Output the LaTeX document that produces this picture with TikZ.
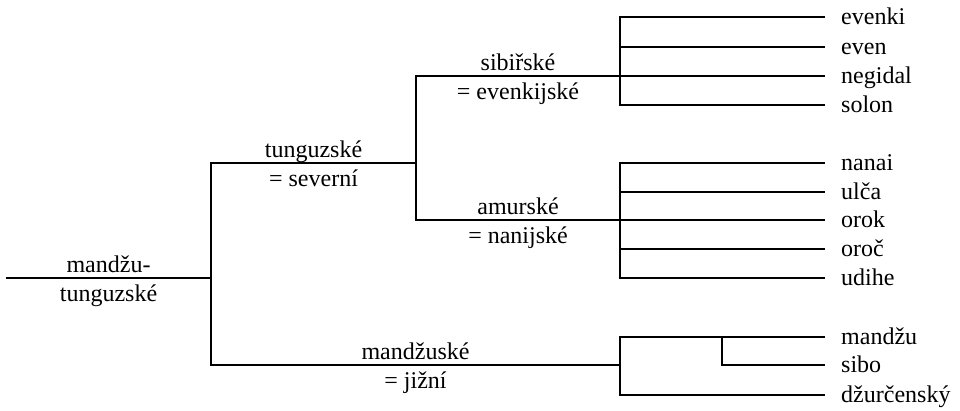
\documentclass[tikz,border=0pt]{standalone}
\usepackage{fontspec}
\setmainfont{Liberation Serif}
\usetikzlibrary{positioning}

\begin{document}
\begin{tikzpicture}[
    x=1pt, y=-1pt,
    font=\fontsize{24}{28}\selectfont,
    branch/.style={draw=black, line width=2pt},
    over/.style={anchor=base, yshift=6pt, inner sep=0pt},
    under/.style={anchor=base, yshift=-23pt, inner sep=0pt},
    leaf/.style={anchor=base west, xshift=16pt, yshift=-7pt, inner sep=0pt}
]
\useasboundingbox (0,0) rectangle (960,410);

%%%%%%%%%%%%%%%%%%%%%
% Junctions
%%%%%%%%%%%%%%%%%%%%%
\coordinate (start) at (6,278);
\coordinate (mt) at (211,278);
\coordinate (tung) at (416,163);
\coordinate (sib) at (620,76);
\coordinate (amur) at (620,220);
\coordinate (mandz) at (620,365);
\coordinate (mandzsib) at (722,337);

%%%%%%%%%%%%%%%%%%%%%
% Leaf ends and names
%%%%%%%%%%%%%%%%%%%%%
\coordinate (evenki) at (825,17);
\coordinate (even) at (825,47);
\coordinate (negidal) at (825,76);
\coordinate (solon) at (825,105);
\coordinate (nanai) at (825,163);
\coordinate (ulca) at (825,192);
\coordinate (orok) at (825,220);
\coordinate (oroc) at (825,249);
\coordinate (udihe) at (825,278);
\coordinate (mandzu) at (825,337);
\coordinate (sibo) at (825,365);
\coordinate (dzur) at (825,395);

\node[leaf] (evenkiL) at (evenki) {evenki};
\node[leaf] (evenL) at (even) {even};
\node[leaf] (negidalL) at (negidal) {negidal};
\node[leaf] (solonL) at (solon) {solon};
\node[leaf] (nanaiL) at (nanai) {nanai};
\node[leaf] (ulcaL) at (ulca) {ulča};
\node[leaf] (orokL) at (orok) {orok};
\node[leaf] (orocL) at (oroc) {oroč};
\node[leaf] (udiheL) at (udihe) {udihe};
\node[leaf] (mandzuL) at (mandzu) {mandžu};
\node[leaf] (siboL) at (sibo) {sibo};
\node[leaf] (dzurL) at (dzur) {džurčenský};

%%%%%%%%%%%%%%%%%%%%%
% Main branches
%%%%%%%%%%%%%%%%%%%%%
\draw[branch] (start) -- (mt)
    node[midway, over] (mtA) {mandžu-}
    node[midway, under] (mtB) {tunguzské};
\draw[branch] (mt) |- (tung)
    node[pos=0.75, over] (tungA) {tunguzské}
    node[pos=0.75, under] (tungB) {= severní};
\draw[branch] (mt) |- (mandz)
    node[pos=0.75, over] (mandzA) {mandžuské}
    node[pos=0.75, under] (mandzB) {= jižní};

%%%%%%%%%%%%%%%%%%%%%
% Northern group
%%%%%%%%%%%%%%%%%%%%%
\draw[branch] (tung) |- (sib)
    node[pos=0.75, over] (sibA) {sibiřské}
    node[pos=0.75, under] (sibB) {= evenkijské};
\draw[branch] (tung) |- (amur)
    node[pos=0.75, over] (amurA) {amurské}
    node[pos=0.75, under] (amurB) {= nanijské};

\draw[branch] (sib) |- (evenki);
\draw[branch] (sib) |- (even);
\draw[branch] (sib) -- (negidal);
\draw[branch] (sib) |- (solon);

\draw[branch] (amur) |- (nanai);
\draw[branch] (amur) |- (ulca);
\draw[branch] (amur) -- (orok);
\draw[branch] (amur) |- (oroc);
\draw[branch] (amur) |- (udihe);

%%%%%%%%%%%%%%%%%%%%%
% Southern group
%%%%%%%%%%%%%%%%%%%%%
\draw[branch] (mandz) |- (mandzu);
\draw[branch] (mandzsib) |- (sibo);
\draw[branch] (mandz) |- (dzur);

\end{tikzpicture}
\end{document}
